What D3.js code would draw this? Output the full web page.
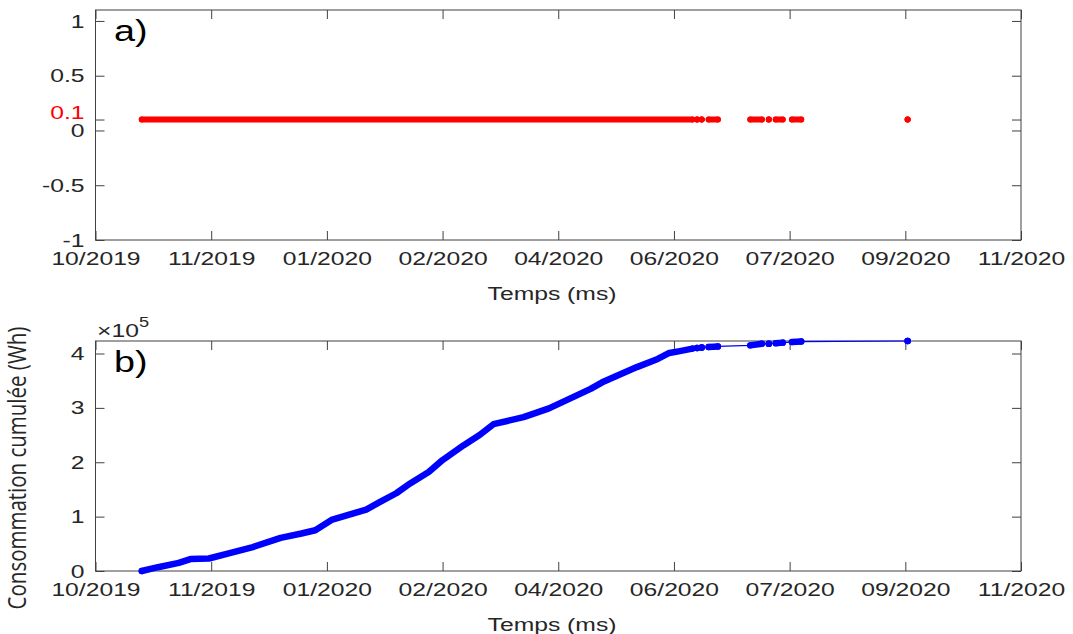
<!DOCTYPE html>
<html>
<head>
<meta charset="utf-8">
<script src="https://cdn.jsdelivr.net/npm/d3@7"></script>
<style>
  body { margin: 0; background: #fff; }
  svg { display: block; }
</style>
</head>
<body>
<svg id="chart" width="1073" height="634"></svg>
<script>
'use strict';

// ---- data ----
var xTickDates = ["2019-10-01", "2019-11-20", "2020-01-09", "2020-02-28", "2020-04-18",
                  "2020-06-07", "2020-07-27", "2020-09-15", "2020-11-04"];
var yTicksA = [-1, -0.5, 0, 0.1, 0.5, 1];
var yTickLabelsA = ["-1", "-0.5", "0", "0.1", "0.5", "1"];
var yTicksB = [0, 1, 2, 3, 4];

// periods where samples exist (panel a), plotted at level 0.1
var presenceStart = ["2019-10-21", "2020-06-17", "2020-06-19", "2020-06-22", "2020-07-10",
                     "2020-07-18", "2020-07-21", "2020-07-28", "2020-09-16"];
var presenceEnd   = ["2020-06-15", "2020-06-17", "2020-06-19", "2020-06-26", "2020-07-15",
                     "2020-07-18", "2020-07-24", "2020-08-01", "2020-09-16"];
var presenceLevel = 0.1;

// cumulated consumption (x 1e5 Wh), panel b
var consoDates = ["2019-10-21", "2019-10-28", "2019-11-06", "2019-11-11", "2019-11-19", "2019-11-28",
                  "2019-12-08", "2019-12-20", "2019-12-29", "2020-01-04", "2020-01-11", "2020-01-26",
                  "2020-02-01", "2020-02-08", "2020-02-14", "2020-02-22", "2020-02-28", "2020-03-08",
                  "2020-03-15", "2020-03-21", "2020-04-03", "2020-04-14", "2020-04-23", "2020-05-02",
                  "2020-05-07", "2020-05-22", "2020-05-31", "2020-06-05", "2020-06-09", "2020-06-15",
                  "2020-06-17", "2020-06-19", "2020-06-22", "2020-06-26", "2020-07-10", "2020-07-15",
                  "2020-07-18", "2020-07-21", "2020-07-24", "2020-07-28", "2020-08-01", "2020-09-16"];
var consoValues = [0, 0.07, 0.15, 0.22, 0.23, 0.33,
                   0.44, 0.61, 0.69, 0.75, 0.94, 1.13,
                   1.27, 1.43, 1.61, 1.82, 2.04, 2.31,
                   2.50, 2.70, 2.83, 2.99, 3.17, 3.35,
                   3.47, 3.75, 3.90, 4.01, 4.04, 4.09,
                   4.10, 4.11, 4.12, 4.13, 4.15, 4.18,
                   4.18, 4.19, 4.20, 4.21, 4.22, 4.23];

var parse = d3.utcParse("%Y-%m-%d");
var fmt = d3.utcFormat("%m/%Y");
var SX = 1.3;           // the picture is stretched horizontally
var FONT = "'Liberation Sans', Arial, Helvetica, sans-serif";
var AXC = "#404040", TXC = "#262626";

var svg = d3.select("#chart");
var left = 95.5, right = 1021;

var x = d3.scaleUtc()
  .domain([parse(xTickDates[0]), parse(xTickDates[xTickDates.length - 1])])
  .range([left, right]);

var panels = [
  { top: 10, bottom: 240, y: d3.scaleLinear().domain([-1, 1.1]).range([240, 10]) },
  { top: 341, bottom: 571, y: d3.scaleLinear().domain([0, d3.max(consoValues)]).range([571, 341]) }
];

function stext(parent, px, py, str, size, anchor, family) {
  return parent.append("g")
    .attr("transform", "translate(" + px + "," + py + ") scale(" + SX + ",1)")
    .append("text")
    .attr("text-anchor", anchor || "start")
    .attr("font-family", family || FONT)
    .attr("font-size", size)
    .attr("fill", TXC)
    .text(str);
}

function styleAxis(g) {
  g.select(".domain").remove();
  g.selectAll("line").attr("stroke", AXC).attr("stroke-width", 1);
  g.selectAll("text").attr("font-family", FONT).attr("font-size", 19).attr("fill", TXC);
}

panels.forEach(function(p, k) {
  var ticksY = k === 0 ? yTicksA : yTicksB;

  // bottom axis with labels
  var gx = svg.append("g").attr("transform", "translate(0," + p.bottom + ")")
    .call(d3.axisBottom(x).tickValues(xTickDates.map(parse)).tickFormat(fmt)
      .tickSizeInner(-9).tickSizeOuter(0).tickPadding(12));
  styleAxis(gx);
  gx.selectAll("text").attr("transform", "scale(" + SX + ",1)");

  // top axis, ticks only
  var gt = svg.append("g").attr("transform", "translate(0," + p.top + ")")
    .call(d3.axisTop(x).tickValues(xTickDates.map(parse)).tickFormat("")
      .tickSizeInner(-9).tickSizeOuter(0));
  styleAxis(gt);

  // left axis
  var gy = svg.append("g").attr("transform", "translate(" + left + ",0)")
    .call(d3.axisLeft(p.y).tickValues(ticksY)
      .tickFormat(function(d, i) { return k === 0 ? yTickLabelsA[i] : d3.format("d")(d); })
      .tickSizeInner(-9).tickSizeOuter(0).tickPadding(8.5));
  styleAxis(gy);
  gy.selectAll("text").attr("transform", "scale(" + SX + ",1)");
  if (k === 0) {
    gy.selectAll(".tick").filter(function(d) { return d === presenceLevel; })
      .select("text").attr("fill", "#ff0000").attr("dy", "-0.05em");
  }

  // right axis, ticks only
  var gr = svg.append("g").attr("transform", "translate(" + right + ",0)")
    .call(d3.axisRight(p.y).tickValues(ticksY).tickFormat("")
      .tickSizeInner(-9).tickSizeOuter(0));
  styleAxis(gr);

  // box
  svg.append("rect")
    .attr("x", left).attr("y", p.top)
    .attr("width", right - left).attr("height", p.bottom - p.top)
    .attr("fill", "none").attr("stroke", AXC).attr("stroke-width", 1);

  stext(svg, 552, p.bottom + 60, "Temps (ms)", 19, "middle");
  stext(svg, 114, p.top + 31, k === 0 ? "a)" : "b)", 29, "start").attr("fill", "#000");
});

// ---- panel a: presence at 0.1 ----
var ya = panels[0].y;
var runs = presenceStart.map(function(s, i) { return [parse(s), parse(presenceEnd[i])]; });
var ga = svg.append("g");
ga.selectAll("line.run").data(runs).enter().append("line")
  .attr("class", "run")
  .attr("x1", function(d) { return x(d[0]); })
  .attr("x2", function(d) { return x(d[1]); })
  .attr("y1", ya(presenceLevel)).attr("y2", ya(presenceLevel))
  .attr("stroke", "#ff0000").attr("stroke-width", 6).attr("stroke-linecap", "round");
ga.selectAll("circle").data(d3.merge(runs)).enter().append("circle")
  .attr("cx", function(d) { return x(d); })
  .attr("cy", ya(presenceLevel)).attr("r", 3).attr("fill", "#ff0000");

// ---- panel b: cumulated consumption ----
var yb = panels[1].y;
var pts = consoDates.map(function(s, i) { return { date: parse(s), v: consoValues[i] }; });
var line = d3.line().x(function(d) { return x(d.date); }).y(function(d) { return yb(d.v); });
var gb = svg.append("g");

gb.append("path").datum(pts).attr("d", line)
  .attr("fill", "none").attr("stroke", "#0000ff").attr("stroke-width", 1.2);

runs.forEach(function(r) {
  var seg = pts.filter(function(d) { return d.date >= r[0] && d.date <= r[1]; });
  gb.append("path").datum(seg).attr("d", line)
    .attr("fill", "none").attr("stroke", "#0000ff").attr("stroke-width", 6.5)
    .attr("stroke-linecap", "round").attr("stroke-linejoin", "round");
  gb.selectAll(null).data([seg[0], seg[seg.length - 1]]).enter().append("circle")
    .attr("cx", function(d) { return x(d.date); })
    .attr("cy", function(d) { return yb(d.v); })
    .attr("r", 3.2).attr("fill", "#0000ff");
});

// exponent marker
var ex = stext(svg, 97, 337, "\u00d710", 19, "start");
ex.append("tspan").attr("font-size", 14).attr("dy", -10).text("5");

// y label of panel b
svg.append("g")
  .attr("transform", "translate(26,468) scale(1.2,1) rotate(-90)")
  .append("text")
  .attr("text-anchor", "middle")
  .attr("font-family", "'Open Sans', 'Noto Sans', sans-serif")
  .attr("font-size", 20.5)
  .attr("fill", TXC)
  .text("Consommation cumulée (Wh)");
</script>
</body>
</html>
